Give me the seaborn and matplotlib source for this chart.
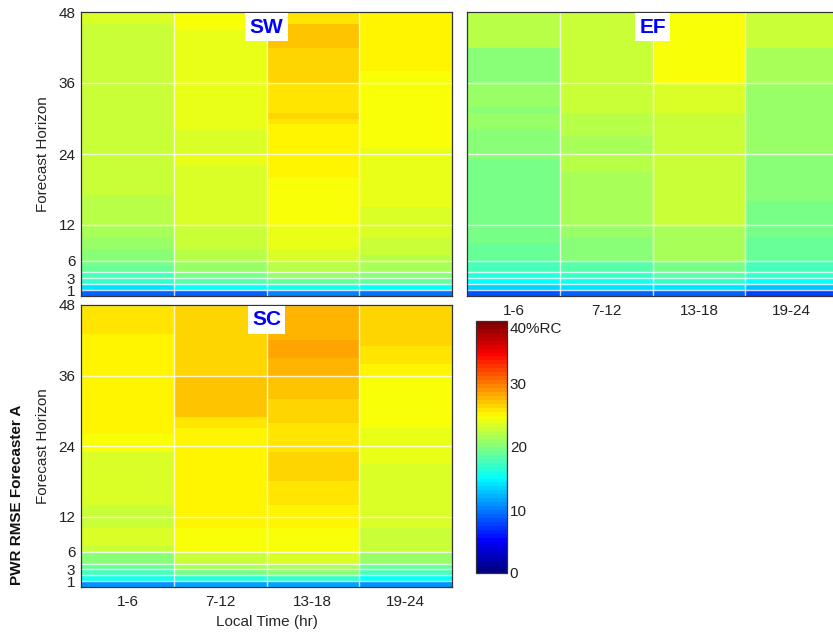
import numpy as np
import pandas as pd
import matplotlib
matplotlib.use("Agg")
import matplotlib.pyplot as plt
from matplotlib.colors import LinearSegmentedColormap
from matplotlib.transforms import ScaledTranslation
import seaborn as sns

# ---------------------------------------------------------------
# RMSE of power forecasts (% of rated capacity), by forecast
# horizon (rows, hour 1..48) and local time-of-day bin (columns)
# ---------------------------------------------------------------
horizons = list(range(1, 49))
time_bins = ["1-6", "7-12", "13-18", "19-24"]
ytick_vals = [1, 3, 6, 12, 24, 36, 48]
grid_rows = [1, 2, 3, 4, 6, 12, 24, 36, 48]

# --- SW region ---
sw_01_06 = [9.3, 14.0, 17.4, 18.1, 19.3, 19.5,
            20.5, 20.6, 20.9, 21.0, 21.6, 21.7,
            22.0, 22.1, 22.0, 22.2, 22.3, 22.6,
            22.8, 22.8, 22.9, 22.8, 22.9, 22.9,
            22.5, 22.5, 22.6, 22.7, 23.0, 23.0,
            23.0, 23.1, 23.0, 23.1, 23.1, 23.0,
            23.1, 23.1, 23.1, 23.1, 23.1, 23.1,
            23.1, 23.1, 23.1, 23.1, 23.4, 23.4]
sw_07_12 = [9.3, 15.0, 18.5, 19.7, 20.9, 21.2,
            22.0, 22.1, 22.8, 22.8, 22.9, 22.9,
            23.2, 23.2, 23.4, 23.4, 23.4, 23.4,
            23.5, 23.4, 23.5, 23.6, 24.0, 24.0,
            23.4, 23.4, 23.4, 23.5, 23.8, 23.8,
            23.8, 24.0, 24.0, 24.0, 24.0, 24.0,
            24.2, 24.2, 24.2, 24.2, 24.2, 24.2,
            24.2, 24.2, 24.2, 24.4, 24.4, 24.4]
sw_13_18 = [10.1, 16.2, 19.3, 20.9, 22.0, 22.3,
            23.2, 23.3, 24.0, 24.0, 24.1, 24.1,
            24.4, 24.4, 24.4, 24.5, 24.5, 24.9,
            24.9, 24.9, 25.0, 25.0, 25.0, 25.0,
            25.2, 25.2, 25.2, 25.2, 25.2, 25.8,
            26.4, 25.8, 25.8, 26.1, 26.2, 26.2,
            26.8, 26.8, 26.8, 26.8, 26.8, 26.8,
            27.2, 27.2, 27.2, 27.2, 26.2, 26.2]
sw_19_24 = [9.7, 15.5, 18.9, 20.1, 21.3, 21.6,
            22.4, 22.6, 22.6, 22.8, 23.3, 23.4,
            23.4, 23.6, 23.7, 23.8, 23.8, 23.8,
            24.0, 24.0, 24.0, 24.1, 24.0, 24.0,
            24.1, 24.4, 24.4, 24.4, 24.4, 24.5,
            24.4, 24.4, 24.5, 24.4, 24.5, 24.5,
            24.6, 24.6, 25.0, 25.0, 25.0, 25.0,
            25.0, 25.0, 25.0, 25.0, 25.6, 25.6]

# --- EF region ---
ef_01_06 = [8.5, 13.2, 15.2, 16.6, 17.7, 17.8,
            19.3, 19.3, 19.3, 19.4, 19.6, 19.7,
            19.9, 19.9, 19.8, 19.8, 19.8, 19.8,
            19.8, 19.8, 19.9, 19.9, 19.9, 20.0,
            20.3, 20.3, 20.3, 20.4, 20.9, 20.9,
            20.9, 20.5, 20.9, 20.9, 20.9, 20.9,
            20.5, 20.5, 20.5, 20.5, 20.5, 20.5,
            22.0, 22.0, 22.0, 22.4, 22.4, 22.4]
ef_07_12 = [9.1, 13.8, 16.2, 17.4, 18.5, 18.6,
            20.5, 20.5, 20.6, 20.6, 20.7, 20.8,
            21.5, 21.5, 21.5, 21.5, 21.6, 21.5,
            21.6, 21.6, 21.7, 21.9, 21.9, 21.9,
            21.7, 21.7, 21.7, 22.3, 22.3, 22.3,
            22.3, 22.6, 22.6, 22.6, 22.6, 22.6,
            22.6, 22.6, 22.6, 22.6, 22.6, 22.6,
            22.6, 22.6, 22.6, 23.0, 23.0, 23.0]
ef_13_18 = [9.3, 14.2, 17.0, 18.5, 19.7, 19.7,
            21.5, 21.5, 21.6, 21.6, 21.7, 21.7,
            22.5, 22.5, 22.5, 22.5, 22.6, 22.6,
            22.6, 22.6, 22.8, 22.8, 22.8, 22.8,
            22.8, 22.8, 22.9, 22.9, 22.8, 22.9,
            22.9, 23.4, 23.4, 23.4, 23.4, 23.5,
            24.4, 24.4, 24.4, 24.4, 24.4, 24.4,
            24.4, 24.4, 24.4, 24.5, 24.5, 24.5]
ef_19_24 = [8.0, 12.8, 15.2, 17.0, 17.7, 17.8,
            19.3, 19.3, 19.3, 19.3, 19.4, 19.4,
            19.7, 19.7, 19.7, 19.8, 20.3, 20.3,
            20.3, 20.3, 20.3, 20.4, 20.4, 20.4,
            20.9, 20.9, 20.9, 20.9, 21.1, 21.1,
            21.1, 21.1, 21.1, 21.1, 21.1, 21.1,
            21.7, 21.7, 21.7, 21.7, 21.7, 21.7,
            22.8, 22.8, 22.8, 22.8, 22.8, 22.8]

# --- SC region ---
sc_01_06 = [10.9, 15.8, 17.7, 18.9, 20.5, 20.6,
            23.0, 23.4, 23.4, 23.3, 23.0, 23.0,
            23.0, 23.0, 23.2, 23.6, 23.6, 23.6,
            23.6, 23.7, 23.6, 23.6, 23.7, 24.4,
            24.4, 24.4, 25.0, 25.0, 25.0, 25.0,
            25.0, 25.0, 25.0, 25.0, 25.0, 25.0,
            25.0, 25.0, 25.0, 25.0, 25.0, 25.0,
            25.0, 26.0, 26.0, 26.0, 26.0, 26.0]
sc_07_12 = [11.7, 16.6, 19.7, 21.3, 22.8, 22.9,
            24.4, 24.4, 24.5, 24.5, 25.0, 25.0,
            25.0, 25.0, 25.0, 25.0, 25.0, 25.0,
            25.0, 25.0, 25.0, 25.0, 25.0, 25.1,
            25.1, 25.4, 25.6, 26.2, 26.2, 26.9,
            26.9, 26.9, 26.9, 26.9, 26.9, 26.9,
            26.6, 26.6, 26.6, 26.6, 26.6, 26.6,
            26.6, 26.6, 26.6, 26.6, 26.5, 26.5]
sc_13_18 = [11.7, 17.0, 20.1, 21.7, 23.2, 23.3,
            24.6, 24.6, 24.7, 24.7, 25.2, 25.2,
            25.2, 25.3, 25.8, 25.8, 25.9, 25.9,
            26.7, 26.7, 26.7, 26.8, 26.7, 26.2,
            26.2, 26.0, 26.0, 26.0, 26.4, 26.4,
            26.7, 26.7, 26.9, 26.9, 26.9, 27.0,
            27.6, 27.6, 27.7, 28.6, 28.6, 28.6,
            28.0, 27.9, 27.9, 27.9, 27.9, 27.9]
sc_19_24 = [10.9, 15.5, 18.1, 19.3, 20.9, 21.0,
            22.6, 22.6, 22.7, 22.7, 23.2, 23.2,
            23.2, 23.3, 23.6, 23.6, 23.6, 23.6,
            23.6, 23.6, 23.6, 24.0, 24.0, 24.0,
            24.0, 24.0, 24.0, 24.4, 24.4, 24.8,
            24.8, 24.8, 24.8, 24.8, 24.8, 24.8,
            25.2, 25.2, 26.0, 26.0, 26.0, 26.4,
            26.4, 26.8, 26.8, 26.8, 26.8, 26.8]

regions = {
    "SW": [sw_01_06, sw_07_12, sw_13_18, sw_19_24],
    "EF": [ef_01_06, ef_07_12, ef_13_18, ef_19_24],
    "SC": [sc_01_06, sc_07_12, sc_13_18, sc_19_24],
}

vmin, vmax = 0, 40
cbar_ticks = [0, 10, 20, 30, 40]
cbar_labels = ["0", "10", "20", "30", "40%RC"]

# ---------------------------------------------------------------
sns.set_style("white")
plt.rcParams["font.family"] = ["Liberation Sans", "DejaVu Sans"]
plt.rcParams["text.color"] = "#222222"

# classic 64-step "jet" ramp
jet = LinearSegmentedColormap.from_list(
    "jet64",
    [(0.0, (0, 0, 0.5)), (0.125, (0, 0, 1)), (0.375, (0, 1, 1)),
     (0.625, (1, 1, 0)), (0.875, (1, 0, 0)), (1.0, (0.5, 0, 0))],
    N=64)

W, H = 833, 635
fig = plt.figure(figsize=(W / 100, H / 100), dpi=100)


def px_axes(left, top, right, bottom):
    return fig.add_axes([left / W, 1 - bottom / H, (right - left) / W, (bottom - top) / H])


ax_sw = px_axes(81, 12, 452, 296)
ax_ef = px_axes(467, 12, 838, 296)
ax_sc = px_axes(81, 305, 452, 587)
cax = px_axes(476, 321, 507, 573)

layout = {
    "SW": dict(ax=ax_sw, xlab=False, ylab=True),
    "EF": dict(ax=ax_ef, xlab=True, ylab=False),
    "SC": dict(ax=ax_sc, xlab=True, ylab=True),
}

mesh = None
for name, cols in regions.items():
    ax = layout[name]["ax"]
    df = pd.DataFrame(np.array(cols).T, index=horizons, columns=time_bins)
    sns.heatmap(df, ax=ax, cmap=jet, vmin=vmin, vmax=vmax, cbar=False,
                xticklabels=True, yticklabels=False)
    mesh = ax.collections[0]
    ax.set_ylim(0, len(horizons))
    ax.set_xlim(0, len(time_bins))

    for h in grid_rows:
        ax.axhline(h, color="white", lw=1.0, alpha=0.8)
    for x in range(1, len(time_bins)):
        ax.axvline(x, color="white", lw=1.0, alpha=0.8)

    for s in ax.spines.values():
        s.set_visible(True)
        s.set_color("#333333")
        s.set_linewidth(0.9)

    ax.set_yticks(ytick_vals)
    if layout[name]["ylab"]:
        ax.set_yticklabels([str(v) for v in ytick_vals], fontsize=11)
        ax.set_ylabel("Forecast Horizon", fontsize=11)
        ax.yaxis.set_label_coords(-0.083, 0.5)
    else:
        ax.set_yticklabels([])
        ax.set_ylabel("")
    ax.tick_params(axis="y", length=0, pad=4, labelcolor="#222222")

    ax.set_xticks([i + 0.5 for i in range(len(time_bins))])
    if layout[name]["xlab"]:
        ax.set_xticklabels(time_bins, fontsize=11, rotation=0)
    else:
        ax.set_xticklabels([])
    ax.tick_params(axis="x", length=0, pad=6, labelcolor="#222222")
    ax.set_xlabel("")

    ax.text(0.5, 0.947, name, transform=ax.transAxes, ha="center", va="center",
            fontsize=15, fontweight="bold", color="#0000ff",
            bbox=dict(facecolor="white", edgecolor="none", pad=3))

ax_sc.set_xlabel("Local Time (hr)", fontsize=11, labelpad=4)

fig.text(17 / W, 1 - 495 / H, "PWR RMSE Forecaster A", rotation=90,
         ha="center", va="center", fontsize=11, fontweight="bold", color="#111111")

cb = fig.colorbar(mesh, cax=cax, ticks=cbar_ticks)
cb.ax.set_yticklabels(cbar_labels, fontsize=11)
cb.outline.set_edgecolor("#333333")
cb.outline.set_linewidth(0.9)
cax.tick_params(axis="y", direction="in", length=3, pad=2, left=True, right=True,
                labelleft=False, labelright=True, labelcolor="#222222", color="#222222")
# the top label sits just inside the bar's upper end
top_label = cax.get_yticklabels()[-1]
top_label.set_transform(top_label.get_transform() +
                        ScaledTranslation(0, -5 / 72, fig.dpi_scale_trans))

fig.savefig("out.png", dpi=100, facecolor="white")
